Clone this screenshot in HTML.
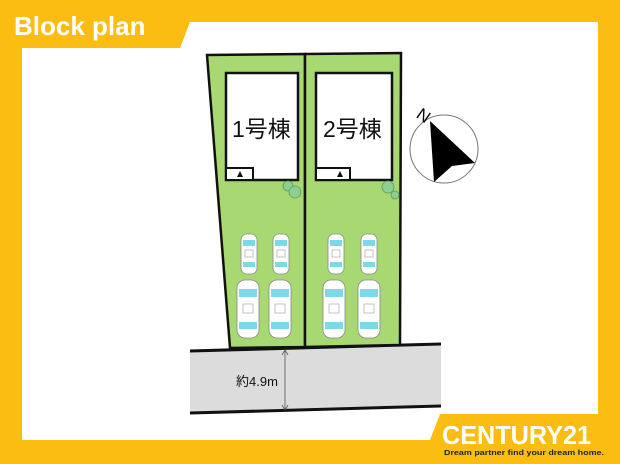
<!DOCTYPE html>
<html><head><meta charset="utf-8"><style>
html,body{margin:0;padding:0;width:620px;height:464px;overflow:hidden;background:#fcbd12;}
svg{display:block}
</style></head><body>
<svg width="620" height="464" viewBox="0 0 620 464" xmlns="http://www.w3.org/2000/svg">
<defs>
<g id="cs">
<rect x="0" y="0" width="16" height="40" rx="6" fill="#fff" stroke="#888" stroke-width="0.8"/>
<rect x="2" y="6" width="12" height="6" fill="#7fd8e8"/>
<rect x="2" y="28" width="12" height="5" fill="#7fd8e8"/>
<rect x="4" y="16" width="8" height="7" fill="none" stroke="#aaa" stroke-width="0.7"/>
</g>
<g id="cl">
<rect x="0" y="0" width="22" height="58" rx="8" fill="#fff" stroke="#888" stroke-width="0.8"/>
<rect x="2" y="9" width="18" height="8" fill="#7fd8e8"/>
<rect x="2" y="42" width="18" height="7" fill="#7fd8e8"/>
<rect x="6" y="24" width="10" height="9" fill="none" stroke="#aaa" stroke-width="0.7"/>
</g>
</defs>
<path d="M22 48 L180 48 L190 22 L598 22 L598 414 L440 414 L430 440 L22 440 Z" fill="#fff"/>
<text x="14" y="35" font-family="Liberation Sans, sans-serif" font-weight="bold" font-size="26" fill="#fff">Block plan</text>
<path d="M190 351 L441 344 L441 406 L190 413 Z" fill="#dcdcdc"/>
<line x1="190" y1="351" x2="441" y2="344" stroke="#111" stroke-width="3"/>
<line x1="190" y1="413" x2="441" y2="406" stroke="#111" stroke-width="3"/>
<line x1="285" y1="351" x2="285" y2="409" stroke="#555" stroke-width="0.8"/>
<path d="M282 355 L285 350 L288 355 M282 405 L285 410 L288 405" fill="none" stroke="#555" stroke-width="0.8"/>
<text x="236" y="386" font-family="Liberation Sans, 'Noto Sans CJK JP', sans-serif" font-size="13" fill="#111">約4.9m</text>
<path d="M207 55 L305 54 L305 347 L230 348 Z" fill="#a8d872" stroke="#111" stroke-width="2.5"/>
<path d="M305 54 L401 53 L400 345 L305 347 Z" fill="#a8d872" stroke="#111" stroke-width="2.5"/>
<rect x="226" y="73" width="72" height="107" fill="#fff" stroke="#111" stroke-width="2.5"/>
<rect x="226" y="168" width="27" height="12" fill="#fff" stroke="#111" stroke-width="2"/>
<path d="M237 177 L240 171 L243 177 Z" fill="#111"/>
<rect x="316" y="73" width="76" height="107" fill="#fff" stroke="#111" stroke-width="2.5"/>
<rect x="316" y="168" width="34" height="12" fill="#fff" stroke="#111" stroke-width="2"/>
<path d="M337 177 L340 171 L343 177 Z" fill="#111"/>
<text x="232" y="137" font-family="Liberation Sans, 'Noto Sans CJK JP', sans-serif" font-size="23" fill="#111">1号棟</text>
<text x="323" y="137" font-family="Liberation Sans, 'Noto Sans CJK JP', sans-serif" font-size="23" fill="#111">2号棟</text>
<g fill="#8fcf8f" stroke="#5a9a5a" stroke-width="0.8">
<circle cx="288" cy="186" r="5"/><circle cx="295" cy="192" r="6"/>
<circle cx="388" cy="187" r="6"/><circle cx="395" cy="195" r="4"/>
</g>
<use href="#cs" x="241" y="234"/><use href="#cs" x="273" y="234"/>
<use href="#cl" x="237" y="280"/><use href="#cl" x="269" y="280"/>
<use href="#cs" x="328" y="234"/><use href="#cs" x="361" y="234"/>
<use href="#cl" x="323" y="280"/><use href="#cl" x="358" y="280"/>
<circle cx="444" cy="149" r="34" fill="#fff" stroke="#777" stroke-width="1"/>
<path d="M430 121 L475 163 L452 166 L434 182 Z" fill="#000"/>
<text x="418" y="122" font-family="Liberation Sans, sans-serif" font-size="17" fill="#000" transform="rotate(35 425 115)">N</text>
<text x="442" y="444" font-family="Liberation Sans, sans-serif" font-weight="bold" font-size="26" fill="#fff" textLength="149" lengthAdjust="spacingAndGlyphs">CENTURY21</text>
<text x="444" y="455" font-family="Liberation Sans, sans-serif" font-weight="bold" font-size="7.5" fill="#222" textLength="160" lengthAdjust="spacingAndGlyphs">Dream partner find your dream home.</text>
</svg>
</body></html>
